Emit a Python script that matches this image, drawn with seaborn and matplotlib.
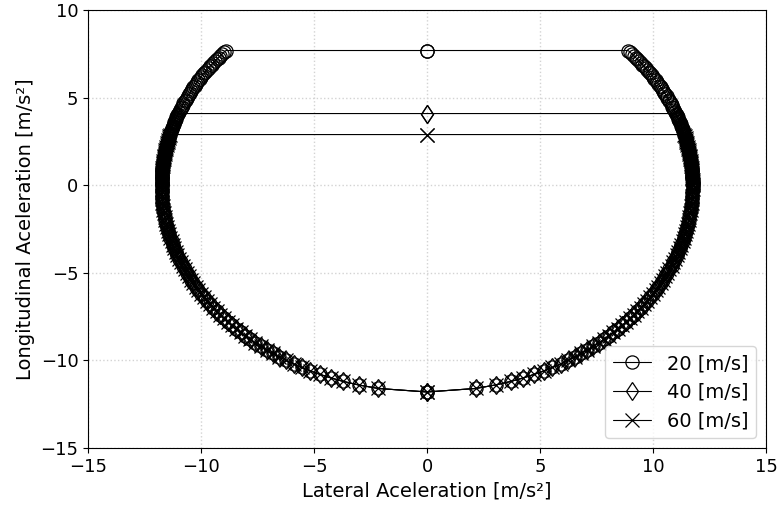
import numpy as np
import pandas as pd
import seaborn as sns
import matplotlib
matplotlib.use("Agg")
import matplotlib.pyplot as plt

# g-g envelope, right half, bottom -> top, m/s^2
# braking part (sparser points)
brake_long = [-11.8, -11.6, -11.4, -11.2, -11.0, -10.8, -10.6, -10.4, -10.2, -10.0,
              -9.8, -9.6, -9.4, -9.2, -9.0, -8.8, -8.6, -8.4, -8.2, -8.0,
              -7.8, -7.6, -7.4, -7.2, -7.0, -6.8, -6.6, -6.4, -6.2, -6.0,
              -5.8, -5.6, -5.4, -5.2, -5.0, -4.8, -4.6, -4.4, -4.2, -4.0,
              -3.8, -3.6, -3.4, -3.2, -3.0, -2.8, -2.6, -2.4, -2.2, -2.0,
              -1.8, -1.6, -1.4, -1.2, -1.0, -0.8, -0.6, -0.4, -0.2]
brake_lat = [0.00, 2.15, 3.03, 3.70, 4.25, 4.73, 5.16, 5.55, 5.91, 6.24,
             6.54, 6.83, 7.10, 7.36, 7.60, 7.83, 8.05, 8.25, 8.45, 8.64,
             8.82, 8.99, 9.15, 9.31, 9.46, 9.60, 9.74, 9.87, 10.00, 10.12,
             10.23, 10.34, 10.45, 10.55, 10.64, 10.73, 10.82, 10.90, 10.98, 11.05,
             11.12, 11.19, 11.25, 11.31, 11.36, 11.41, 11.46, 11.50, 11.54, 11.58,
             11.61, 11.64, 11.67, 11.69, 11.71, 11.72, 11.73, 11.74, 11.75]
# driving part (denser points)
drive_long = [0.0, 0.1, 0.2, 0.3, 0.4, 0.5, 0.6, 0.7, 0.8, 0.9,
              1.0, 1.1, 1.2, 1.3, 1.4, 1.5, 1.6, 1.7, 1.8, 1.9,
              2.0, 2.1, 2.2, 2.3, 2.4, 2.5, 2.6, 2.7, 2.8, 2.9,
              3.0, 3.1, 3.2, 3.3, 3.4, 3.5, 3.6, 3.7, 3.8, 3.9,
              4.0, 4.1, 4.2, 4.3, 4.4, 4.5, 4.6, 4.7, 4.8, 4.9,
              5.0, 5.1, 5.2, 5.3, 5.4, 5.5, 5.6, 5.7, 5.8, 5.9,
              6.0, 6.1, 6.2, 6.3, 6.4, 6.5, 6.6, 6.7, 6.8, 6.9,
              7.0, 7.1, 7.2, 7.3, 7.4, 7.5, 7.6]
drive_lat = [11.75, 11.75, 11.75, 11.75, 11.74, 11.74, 11.73, 11.73, 11.72, 11.72,
             11.71, 11.70, 11.69, 11.68, 11.67, 11.65, 11.64, 11.63, 11.61, 11.60,
             11.58, 11.56, 11.54, 11.52, 11.50, 11.48, 11.46, 11.44, 11.41, 11.39,
             11.36, 11.34, 11.31, 11.28, 11.25, 11.22, 11.19, 11.16, 11.12, 11.09,
             11.05, 11.02, 10.98, 10.94, 10.90, 10.86, 10.82, 10.78, 10.73, 10.69,
             10.64, 10.60, 10.55, 10.50, 10.45, 10.40, 10.34, 10.29, 10.23, 10.18,
             10.12, 10.06, 10.00, 9.94, 9.87, 9.81, 9.74, 9.67, 9.60, 9.53,
             9.46, 9.39, 9.31, 9.23, 9.15, 9.07, 8.99]

# power limited max longitudinal accel for each speed and lateral accel there
speeds = ["20 [m/s]", "40 [m/s]", "60 [m/s]"]
long_max = [7.7, 4.1, 2.9]
lat_at_max = [8.90, 11.02, 11.39]
markers = ["o", "d", "x"]

long_acc = np.array(brake_long + drive_long)
lat_acc = np.array(brake_lat + drive_lat)

sns.set_style("ticks", {"text.color": "k", "axes.labelcolor": "k",
                        "xtick.color": "k", "ytick.color": "k",
                        "axes.edgecolor": "k"})
plt.rcParams['font.family'] = ['DejaVu Sans']
fig, ax = plt.subplots(figsize=(7.8, 5.12), dpi=100)
fig.subplots_adjust(left=0.113, right=0.982, top=0.980, bottom=0.125)

for name, lmax, lat_top, mk in zip(speeds, long_max, lat_at_max, markers):
    keep = long_acc < lmax
    yr = long_acc[keep]
    xr = lat_acc[keep]
    # closed loop: top centre -> right side down -> left side up -> top centre
    xs = np.concatenate([[0.0, lat_top], xr[::-1], -xr, [-lat_top, 0.0]])
    ys = np.concatenate([[lmax, lmax], yr[::-1], yr, [lmax, lmax]])
    df = pd.DataFrame({"x": xs, "y": ys})
    sns.lineplot(data=df, x="x", y="y", sort=False, estimator=None, ax=ax,
                 color="k", lw=0.8, marker=mk, markersize=9.5,
                 markerfacecolor="none", markeredgecolor="k",
                 markeredgewidth=0.9, label=name)

ax.set_xlim(-15, 15)
ax.set_ylim(-15, 10)
ax.set_xticks([-15, -10, -5, 0, 5, 10, 15])
ax.set_yticks([-15, -10, -5, 0, 5, 10])
ax.grid(True, linestyle=":", color="lightgray", lw=1)
ax.tick_params(labelsize=13)
ax.set_xlabel("Lateral Aceleration [m/s²]", fontsize=14)
ax.set_ylabel("Longitudinal Aceleration [m/s²]", fontsize=14)
for s in ax.spines.values():
    s.set_visible(True)
ax.legend(loc="lower right", fontsize=14, frameon=True)

plt.savefig("out.png", dpi=100)
